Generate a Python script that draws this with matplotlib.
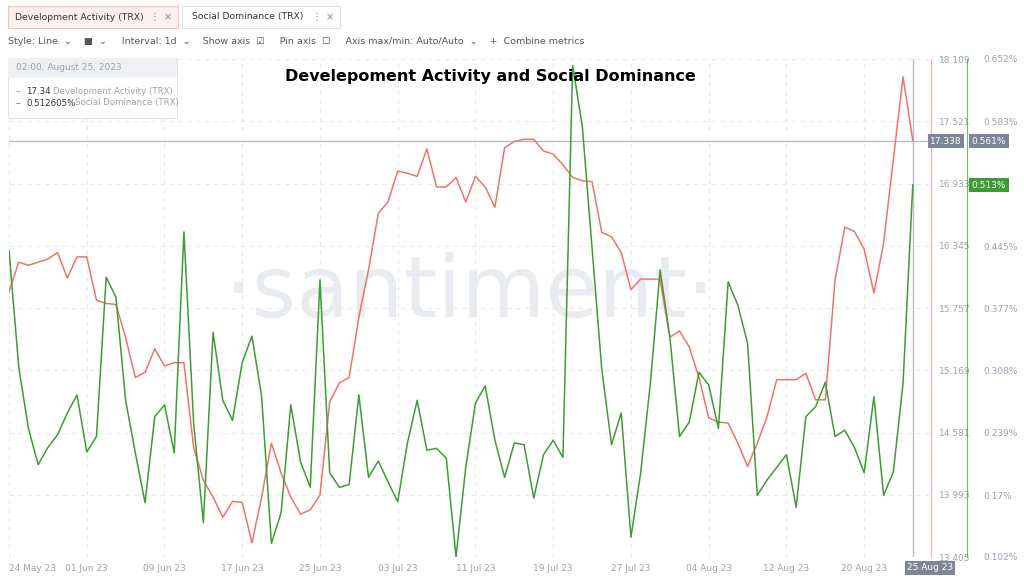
import matplotlib.pyplot as plt
import matplotlib.dates as mdates
import numpy as np
import pandas as pd

dates = pd.date_range("2023-05-24", "2023-08-25", freq="D")

dev_activity = [
    15.91, 16.19, 16.16, 16.19, 16.22, 16.28, 16.04, 16.24, 16.24, 15.83,
    15.80, 15.79, 15.48, 15.10, 15.15, 15.37, 15.21, 15.24, 15.24, 14.44,
    14.13, 13.97, 13.78, 13.93, 13.92, 13.54, 13.97, 14.48, 14.20, 13.97,
    13.81, 13.85, 13.99, 14.87, 15.05, 15.10, 15.67, 16.12, 16.65, 16.76,
    17.05, 17.03, 17.00, 17.26, 16.90, 16.90, 16.99, 16.76, 17.00, 16.90,
    16.71, 17.27, 17.33, 17.35, 17.35, 17.24, 17.21, 17.11, 16.99, 16.96,
    16.95, 16.47, 16.43, 16.28, 15.93, 16.03, 16.03, 16.03, 15.48, 15.54,
    15.39, 15.10, 14.72, 14.68, 14.67, 14.48, 14.26, 14.48, 14.73, 15.08,
    15.08, 15.08, 15.14, 14.89, 14.89, 16.02, 16.52, 16.48, 16.31, 15.90,
    16.37, 17.16, 17.94, 17.34,
]

social_dominance = [
    0.441, 0.312, 0.244, 0.204, 0.223, 0.237, 0.261, 0.281, 0.218, 0.235,
    0.411, 0.389, 0.275, 0.217, 0.162, 0.257, 0.270, 0.217, 0.461, 0.250,
    0.140, 0.350, 0.275, 0.253, 0.317, 0.346, 0.279, 0.117, 0.151, 0.270,
    0.207, 0.179, 0.408, 0.195, 0.179, 0.182, 0.281, 0.190, 0.208, 0.185,
    0.163, 0.228, 0.275, 0.220, 0.222, 0.211, 0.102, 0.201, 0.272, 0.291,
    0.231, 0.190, 0.228, 0.226, 0.167, 0.215, 0.231, 0.212, 0.645, 0.577,
    0.443, 0.309, 0.226, 0.261, 0.124, 0.195, 0.294, 0.419, 0.345, 0.235,
    0.251, 0.306, 0.292, 0.244, 0.406, 0.380, 0.338, 0.170, 0.187, 0.201,
    0.215, 0.157, 0.257, 0.268, 0.295, 0.235, 0.242, 0.223, 0.195, 0.279,
    0.170, 0.196, 0.294, 0.513,
]

dev_ticks = [13.405, 13.993, 14.581, 15.169, 15.757, 16.345, 16.933, 17.521, 18.109]
soc_ticks = [0.102, 0.17, 0.239, 0.308, 0.377, 0.445, 0.513, 0.583, 0.652]
date_ticks = pd.to_datetime(["2023-05-24", "2023-06-01", "2023-06-09", "2023-06-17", "2023-06-25",
                             "2023-07-03", "2023-07-11", "2023-07-19", "2023-07-27", "2023-08-04",
                             "2023-08-12", "2023-08-20"])

RED = "#f0736b"
GREEN = "#3f9c35"
GRAY = "#9aa3b0"

fig = plt.figure(figsize=(10.24, 5.76), dpi=100)
W, H = 1024, 576
ax = fig.add_axes([9 / W, 1 - 557 / H, (931 - 9) / W, (557 - 59) / H])
ax2 = ax.twinx()

ax.plot(dates, dev_activity, color=RED, lw=1.1, zorder=3)
ax2.plot(dates, social_dominance, color=GREEN, lw=1.1, zorder=3)

ax.set_ylim(dev_ticks[0], dev_ticks[-1])
ax2.set_ylim(soc_ticks[0], soc_ticks[-1])
ax.set_xlim(dates[0], dates[-1] + pd.Timedelta(hours=45))

for a in (ax, ax2):
    for s in a.spines.values():
        s.set_visible(False)

ax.set_yticks(dev_ticks)
ax.yaxis.tick_right()
ax.set_yticklabels([f"{v:.3f}" for v in dev_ticks])
ax.tick_params(axis="y", length=0, labelsize=6.5, labelcolor=GRAY, pad=6)
ax.spines["right"].set_visible(True)
ax.spines["right"].set_color(RED)
ax.spines["right"].set_alpha(0.6)

ax2.set_yticks(soc_ticks)
# the 0.513% tick is covered by the current-value box
ax2.set_yticklabels([f"{v:g}%" if v != 0.513 else "" for v in soc_ticks])
ax2.tick_params(axis="y", length=0, labelsize=6.5, labelcolor=GRAY, pad=12)
ax2.spines["right"].set_visible(True)
ax2.spines["right"].set_position(("axes", (967 - 9) / (931 - 9)))
ax2.spines["right"].set_color(GREEN)
ax2.spines["right"].set_alpha(0.7)

ax.set_xticks(date_ticks)
ax.xaxis.set_major_formatter(mdates.DateFormatter("%d %b %y"))
ax.tick_params(axis="x", length=0, labelsize=6.5, labelcolor=GRAY, pad=5)
ax.get_xticklabels()[0].set_ha("left")
ax.grid(True, color="#e6e9ee", ls=(0, (4, 4)), lw=0.8)
ax.set_axisbelow(True)

# cursor
ax.axhline(17.338, color="#b7bccb", lw=1, zorder=2)
ax.axvline(dates[-1], color="#b7bccb", lw=1, zorder=2)
box = dict(boxstyle="square,pad=0.25", fc="#7d8597", ec="none")
fig.text(946 / W, 1 - 141 / H, "17.338", fontsize=6.5, color="white", va="center", ha="center", bbox=box)
fig.text(989 / W, 1 - 141 / H, "0.561%", fontsize=6.5, color="white", va="center", ha="center", bbox=box)
fig.text(989 / W, 1 - 185 / H, "0.513%", fontsize=6.5, color="white", va="center", ha="center",
         bbox=dict(boxstyle="square,pad=0.25", fc="#3f9c35", ec="none"), zorder=10)
fig.text(930 / W, 1 - 568 / H, "25 Aug 23", fontsize=6.5, color="white", va="center", ha="center", bbox=box)

# watermark
ax.text(0.5, 0.53, "·santiment·", transform=ax.transAxes, fontsize=62, color="#e8ebf0",
        ha="center", va="center", zorder=0)

# title
fig.text(490 / W, 1 - 77 / H, "Develepoment Activity and Social Dominance", fontsize=11.5,
         fontweight="bold", ha="center", va="center")

# legend box
fig.patches.append(plt.Rectangle((8 / W, 1 - 118 / H), 169 / W, 60 / H, transform=fig.transFigure,
                                 fc="white", ec="#dfe3e8", lw=0.8))
fig.patches.append(plt.Rectangle((8 / W, 1 - 78 / H), 169 / W, 20 / H, transform=fig.transFigure,
                                 fc="#eef0f3", ec="none"))
fig.text(16 / W, 1 - 68 / H, "02:00, August 25, 2023", fontsize=6.5, color=GRAY, va="center")
fig.text(16 / W, 1 - 91 / H, "–", fontsize=7, color=RED, va="center")
fig.text(26 / W, 1 - 91 / H, "17.34", fontsize=6.2, color="#333", va="center")
fig.text(53 / W, 1 - 91 / H, "Development Activity (TRX)", fontsize=6.2, color=GRAY, va="center")
fig.text(16 / W, 1 - 103 / H, "–", fontsize=7, color=GREEN, va="center")
fig.text(26 / W, 1 - 103 / H, "0.512605%", fontsize=6.2, color="#333", va="center")
fig.text(75 / W, 1 - 103 / H, "Social Dominance (TRX)", fontsize=6.2, color=GRAY, va="center")

# top toolbar
fig.patches.append(plt.Rectangle((8 / W, 1 - 28 / H), 170 / W, 22 / H, transform=fig.transFigure,
                                 fc="#fdf0ef", ec="#f3c2bd", lw=0.8))
fig.patches.append(plt.Rectangle((182 / W, 1 - 28 / H), 158 / W, 22 / H, transform=fig.transFigure,
                                 fc="white", ec="#dfe3e8", lw=0.8))
fig.text(15 / W, 1 - 17 / H, "Development Activity (TRX)", fontsize=6.7, color="#333", va="center")
fig.text(150 / W, 1 - 17 / H, "⋮", fontsize=7, color="#888", va="center")
fig.text(164 / W, 1 - 17 / H, "×", fontsize=7, color="#888", va="center")
fig.text(192 / W, 1 - 17 / H, "Social Dominance (TRX)", fontsize=6.7, color="#333", va="center")
fig.text(312 / W, 1 - 17 / H, "⋮", fontsize=7, color="#888", va="center")
fig.text(326 / W, 1 - 17 / H, "×", fontsize=7, color="#888", va="center")
fig.text(8 / W, 1 - 42 / H,
         "Style: Line  ⌄    ■  ⌄     Interval: 1d  ⌄    Show axis  ☑     Pin axis  ☐     "
         "Axis max/min: Auto/Auto  ⌄    +  Combine metrics",
         fontsize=6.8, color="#555", va="center")

fig.savefig("out.png", dpi=100)
